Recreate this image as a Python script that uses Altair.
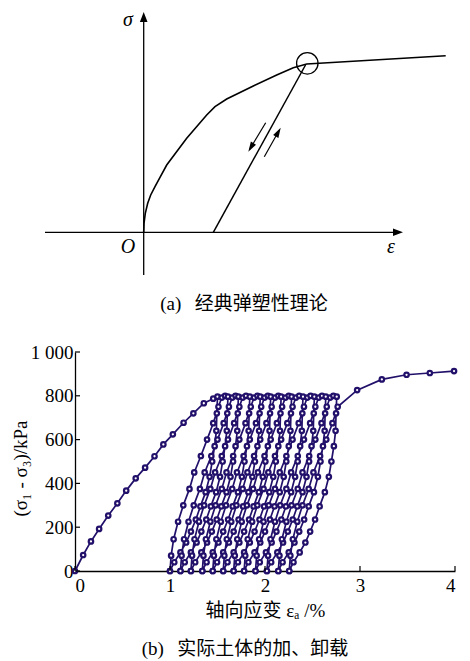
import altair as alt
import pandas as pd

INK = "#22106a"
SERIF = "Liberation Serif, Noto Sans CJK SC"

# ---------------- panel (a): classic elasto-plastic schematic ----------------
a_curve_x = [0, 0.003, 0.016, 0.04, 0.07, 0.113, 0.163, 0.23, 0.43, 0.63, 0.713, 0.83, 1.096, 1.33, 1.496, 1.63, 3.02]
a_curve_y = [0, 0.09, 0.19, 0.29, 0.373, 0.456, 0.55, 0.673, 0.94, 1.173, 1.256, 1.333, 1.463, 1.573, 1.646, 1.683, 1.766]
a_unload_x = [1.618, 0.696]
a_unload_y = [1.673, 0.0]
a_axis_seg = ["x", "x", "y", "y"]
a_axis_x = [-0.987, 2.53, 0.0, 0.0]
a_axis_y = [0.0, 0.0, -0.427, 2.12]
a_head_x = [2.593, 0.0]
a_head_y = [0.0, 2.203]
a_head_angle = [0, 270]
a_small_seg = ["down", "down", "up", "up"]
a_small_x = [1.22, 1.06, 1.206, 1.355]
a_small_y = [1.096, 0.83, 0.756, 1.02]
a_small_head_x = [1.046, 1.37]
a_small_head_y = [0.806, 1.046]
a_small_head_angle = [121, 299.5]
a_circle_x = [1.636]
a_circle_y = [1.69]
a_sym_text = ["σ", "O", "ε"]
a_sym_x = [-0.157, -0.157, 2.473]
a_sym_y = [2.123, -0.147, -0.147]
caption_a = "(a)\u2002\u2009经典弹塑性理论"

# ---------------- panel (b): real soil loading / unloading ----------------
load_strain = [0, 0.086, 0.168, 0.254, 0.35, 0.446, 0.539, 0.639, 0.738, 0.837, 0.93, 1.03, 1.143, 1.246, 1.356, 1.455]
load_stress = [0, 73, 135, 192, 253, 309, 367, 423, 472, 524, 578, 624, 677, 720, 766, 787]

unload_stress = [796, 720, 640, 570, 500, 430, 360, 295, 235, 180, 130, 85, 40, 0]
reload_stress = [0, 70, 145, 225, 300, 375, 450, 525, 600, 675, 750, 792, 800]

unload_strain = [
    [1.500, 1.493, 1.488, 1.470, 1.444, 1.417, 1.375, 1.320, 1.272, 1.220, 1.170, 1.110, 1.045, 1.000],
    [1.610, 1.603, 1.598, 1.580, 1.554, 1.527, 1.485, 1.430, 1.382, 1.330, 1.280, 1.220, 1.155, 1.110],
    [1.720, 1.713, 1.708, 1.690, 1.664, 1.637, 1.595, 1.540, 1.492, 1.440, 1.390, 1.330, 1.265, 1.220],
    [1.840, 1.833, 1.828, 1.810, 1.784, 1.757, 1.715, 1.660, 1.612, 1.560, 1.510, 1.450, 1.385, 1.340],
    [1.950, 1.943, 1.938, 1.920, 1.894, 1.867, 1.825, 1.770, 1.722, 1.670, 1.620, 1.560, 1.495, 1.450],
    [2.060, 2.053, 2.048, 2.030, 2.004, 1.977, 1.935, 1.880, 1.832, 1.780, 1.730, 1.670, 1.605, 1.560],
    [2.170, 2.163, 2.158, 2.140, 2.114, 2.087, 2.045, 1.990, 1.942, 1.890, 1.840, 1.780, 1.715, 1.670],
    [2.280, 2.273, 2.268, 2.250, 2.224, 2.197, 2.155, 2.100, 2.052, 2.000, 1.950, 1.890, 1.825, 1.780],
    [2.400, 2.393, 2.388, 2.370, 2.344, 2.317, 2.275, 2.220, 2.172, 2.120, 2.070, 2.010, 1.945, 1.900],
    [2.520, 2.513, 2.508, 2.490, 2.464, 2.437, 2.395, 2.340, 2.292, 2.240, 2.190, 2.130, 2.065, 2.020],
    [2.640, 2.633, 2.628, 2.610, 2.584, 2.557, 2.515, 2.460, 2.412, 2.360, 2.310, 2.250, 2.185, 2.140],
    [2.755, 2.748, 2.743, 2.725, 2.699, 2.672, 2.630, 2.575, 2.527, 2.475, 2.425, 2.365, 2.300, 2.255],
]
reload_strain = [
    [1.000, 1.012, 1.038, 1.085, 1.140, 1.205, 1.255, 1.325, 1.390, 1.455, 1.510, 1.545, 1.580],
    [1.110, 1.122, 1.148, 1.195, 1.250, 1.315, 1.365, 1.435, 1.500, 1.565, 1.620, 1.655, 1.690],
    [1.220, 1.232, 1.258, 1.305, 1.360, 1.425, 1.475, 1.545, 1.610, 1.675, 1.730, 1.765, 1.800],
    [1.340, 1.352, 1.378, 1.425, 1.480, 1.545, 1.595, 1.665, 1.730, 1.795, 1.850, 1.885, 1.920],
    [1.450, 1.462, 1.488, 1.535, 1.590, 1.655, 1.705, 1.775, 1.840, 1.905, 1.960, 1.995, 2.030],
    [1.560, 1.572, 1.598, 1.645, 1.700, 1.765, 1.815, 1.885, 1.950, 2.015, 2.070, 2.105, 2.140],
    [1.670, 1.682, 1.708, 1.755, 1.810, 1.875, 1.925, 1.995, 2.060, 2.125, 2.180, 2.215, 2.250],
    [1.780, 1.792, 1.818, 1.865, 1.920, 1.985, 2.035, 2.105, 2.170, 2.235, 2.290, 2.325, 2.360],
    [1.900, 1.912, 1.938, 1.985, 2.040, 2.105, 2.155, 2.225, 2.290, 2.355, 2.410, 2.445, 2.480],
    [2.020, 2.032, 2.058, 2.105, 2.160, 2.225, 2.275, 2.345, 2.410, 2.475, 2.530, 2.565, 2.600],
    [2.140, 2.152, 2.178, 2.225, 2.280, 2.345, 2.395, 2.465, 2.530, 2.595, 2.650, 2.685, 2.720],
    [2.255, 2.267, 2.293, 2.340, 2.395, 2.460, 2.510, 2.580, 2.645, 2.710, 2.765],
]
final_strain = [2.97, 3.23, 3.49, 3.735, 3.99]
final_stress = [826, 875, 896, 904, 913]

y_ticks = [0, 200, 400, 600, 800, 1000]
x_ticks = [0, 1, 2, 3, 4]
x_title = "轴向应变 εₐ /%"
y_title = "(σ₁ - σ₃)/kPa"
caption_b = "(b)\u2002\u2009实际土体的加、卸载"

# ---------------- build tables ----------------
strain_seq, stress_seq = list(load_strain), list(load_stress)
for us, rs in zip(unload_strain, reload_strain):
    strain_seq += us
    stress_seq += unload_stress[: len(us)]
    strain_seq += rs
    stress_seq += reload_stress[: len(rs)]
strain_seq += final_strain
stress_seq += final_stress
df_b = pd.DataFrame({"strain": strain_seq, "stress": stress_seq, "i": range(len(strain_seq))})

W = 380
HA, HB = 310, 219
AX = alt.Scale(domain=[-0.687, 3.113], nice=False, zero=False)
AY = alt.Scale(domain=[-0.857, 2.243], nice=False, zero=False)


def ax(field="x"):
    return alt.X(f"{field}:Q", scale=AX, axis=None)


def ay(field="y"):
    return alt.Y(f"{field}:Q", scale=AY, axis=None)


axes_a = alt.Chart(pd.DataFrame({"x": a_axis_x, "y": a_axis_y, "s": a_axis_seg})).mark_line(
    color="black", strokeWidth=1.3).encode(x=ax(), y=ay(), detail="s:N")
curve_a = alt.Chart(pd.DataFrame({"x": a_curve_x, "y": a_curve_y, "i": range(len(a_curve_x))})).mark_line(
    color="black", strokeWidth=1.6).encode(x=ax(), y=ay(), order="i:Q")
unl_a = alt.Chart(pd.DataFrame({"x": a_unload_x, "y": a_unload_y})).mark_line(
    color="black", strokeWidth=1.5).encode(x=ax(), y=ay())
heads_a = alt.Chart(pd.DataFrame({"x": a_head_x, "y": a_head_y, "ang": a_head_angle})).mark_point(
    shape="M0,0L-1,-0.38L-1,0.38Z", filled=True, color="black", size=400, opacity=1).encode(
    x=ax(), y=ay(), angle=alt.Angle("ang:Q", scale=None))
small_a = alt.Chart(pd.DataFrame({"x": a_small_x, "y": a_small_y, "s": a_small_seg})).mark_line(
    color="black", strokeWidth=1.2).encode(x=ax(), y=ay(), detail="s:N")
small_heads_a = alt.Chart(pd.DataFrame({"x": a_small_head_x, "y": a_small_head_y, "ang": a_small_head_angle})).mark_point(
    shape="M0,0L-1,-0.3L-1,0.3Z", filled=True, color="black", size=400, opacity=1).encode(
    x=ax(), y=ay(), angle=alt.Angle("ang:Q", scale=None))
circle_a = alt.Chart(pd.DataFrame({"x": a_circle_x, "y": a_circle_y})).mark_point(
    shape="circle", filled=False, color="black", strokeWidth=1.3, size=460, opacity=1).encode(x=ax(), y=ay())
sym_a = alt.Chart(pd.DataFrame({"x": a_sym_x, "y": a_sym_y, "t": a_sym_text})).mark_text(
    font="Liberation Serif", fontStyle="italic", fontSize=20, color="black").encode(x=ax(), y=ay(), text="t:N")
cap_a = alt.Chart(pd.DataFrame({"t": [caption_a]})).mark_text(
    font=SERIF, fontSize=19, color="black").encode(x=alt.value(169), y=alt.value(296), text="t:N")

panel_a = alt.layer(axes_a, curve_a, unl_a, heads_a, small_a, small_heads_a, circle_a, sym_a, cap_a).properties(
    width=W, height=HA)

BX = alt.Scale(domain=[0, 4], nice=False, zero=False)
BY = alt.Scale(domain=[0, 1000], nice=False, zero=False)

main_b = alt.Chart(df_b).mark_line(
    color=INK, strokeWidth=1.7,
    point=alt.OverlayMarkDef(filled=True, fill="white", stroke=INK, strokeWidth=2.2, size=20, opacity=1),
).encode(
    x=alt.X("strain:Q", scale=BX, axis=alt.Axis(values=x_ticks, format="d", title=x_title)),
    y=alt.Y("stress:Q", scale=BY, axis=alt.Axis(values=y_ticks, title=y_title, titleY=116,
                                                  labelExpr="datum.value == 1000 ? '1 000' : datum.label")),
    order="i:Q",
)
yt = alt.Chart(pd.DataFrame({"stress": y_ticks})).mark_rule(color="black", strokeWidth=1.2).encode(
    y=alt.Y("stress:Q", scale=BY), x=alt.value(0), x2=alt.value(5))
xt = alt.Chart(pd.DataFrame({"strain": x_ticks})).mark_rule(color="black", strokeWidth=1.2).encode(
    x=alt.X("strain:Q", scale=BX), y=alt.value(HB), y2=alt.value(HB - 5))
cap_b = alt.Chart(pd.DataFrame({"t": [caption_b]})).mark_text(
    font=SERIF, fontSize=19, color="black").encode(x=alt.value(170), y=alt.value(HB + 78), text="t:N")

panel_b = alt.layer(main_b, yt, xt, cap_b).properties(width=W, height=HB)

chart = alt.vconcat(panel_a, panel_b, spacing=34, bounds="flush").properties(
    padding={"left": 3, "top": 0, "right": 0, "bottom": 0}
).configure_view(strokeWidth=0).configure_axis(
    grid=False, ticks=False, domainColor="black", domainWidth=1.3,
    labelFont="Liberation Serif", labelFontSize=19, labelColor="black",
    titleFont=SERIF, titleFontSize=19, titleFontWeight="normal", titleColor="black",
).configure_axisY(titlePadding=0, labelPadding=2).configure_axisX(titlePadding=6, labelPadding=5)

chart.save("out.html", embed_options={"renderer": "svg", "actions": False})
